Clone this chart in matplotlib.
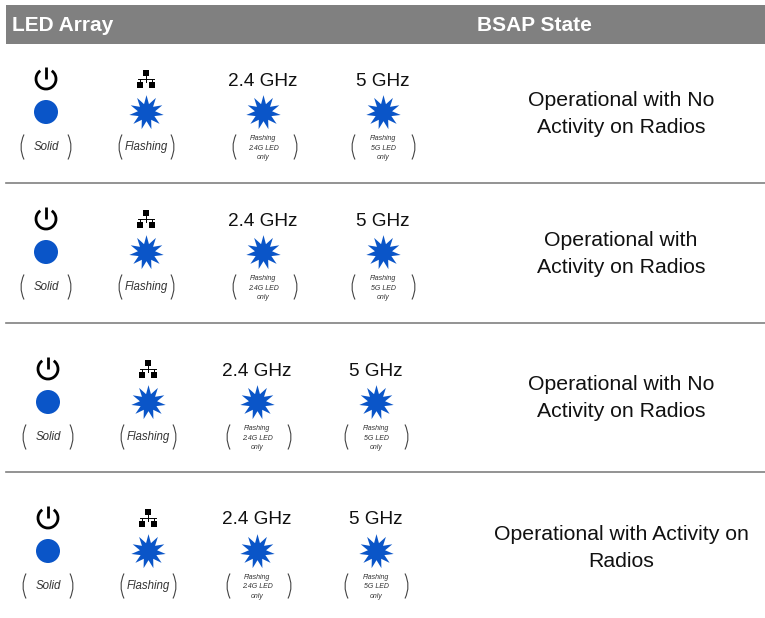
#!/usr/bin/env python3
# LED array / BSAP state table drawn in pixel coordinates
import matplotlib
matplotlib.use('Agg')
import matplotlib.pyplot as plt
from matplotlib.patches import Arc, Circle, PathPatch, Rectangle
from matplotlib.path import Path

plt.rcParams['font.family'] = ['Liberation Sans', 'DejaVu Sans']

# 数据
headers = ['LED Array', 'BSAP State']
band_labels = ['2.4 GHz', '5 GHz']
led_states = ['Solid', 'Flashing', 'Flashing\n2.4G LED\nonly', 'Flashing\n5G LED\nonly']
bsap_states = [
    'Operational with No\nActivity on Radios',
    'Operational with\nActivity on Radios',
    'Operational with No\nActivity on Radios',
    'Operational with Activity on\nRadios',
]

BLUE = '#0A55C8'
INK = '#333333'

# 每行的位置
row_y = [78, 218, 368, 517]
row_cols = [
    [46, 146, 263, 383],
    [46, 146, 263, 383],
    [48, 148, 257, 376],
    [48, 148, 257, 376],
]
state_y = [114, 254, 398, 548]
state_x = 621
rule_y = [183, 323, 472]

fig = plt.figure(figsize=(7.65, 6.18), dpi=100)
ax = fig.add_axes([0, 0, 1, 1])
ax.set_xlim(0, 765)
ax.set_ylim(618, 0)
ax.axis('off')

# 表头
ax.add_patch(Rectangle((6, 5), 759, 39, facecolor='#808080', edgecolor='none'))
ax.text(12, 25.5, headers[0], color='white', fontsize=15, fontweight='bold', ha='left', va='center')
ax.text(477, 25.5, headers[1], color='white', fontsize=15, fontweight='bold', ha='left', va='center')

star = Path.unit_regular_star(11, innerCircle=0.5)


def draw_power(x, y):
    ax.add_patch(Arc((x, y + 1), 20, 20, theta1=-55, theta2=235, color='black', lw=2.0))
    ax.plot([x, x], [y - 11, y + 1], color='black', lw=2.0, solid_capstyle='butt')


def draw_network(x, y):
    ax.add_patch(Rectangle((x - 3, y - 9), 6, 6, color='black', lw=0))
    ax.add_patch(Rectangle((x - 9, y + 3), 6, 6, color='black', lw=0))
    ax.add_patch(Rectangle((x + 3, y + 3), 6, 6, color='black', lw=0))
    ax.plot([x, x], [y - 3, y + 3], color='black', lw=0.7)
    ax.plot([x - 8, x + 8], [y, y], color='black', lw=0.7)
    ax.plot([x - 6, x - 6], [y, y + 3], color='black', lw=0.7)
    ax.plot([x + 6, x + 6], [y, y + 3], color='black', lw=0.7)


def draw_parens(x, y, half):
    # half 为括号到中心的距离
    for side in (-1, 1):
        verts = [(x + side * (half - 3), y - 12.5), (x + side * (half + 3), y), (x + side * (half - 3), y + 12.5)]
        path = Path(verts, [Path.MOVETO, Path.CURVE3, Path.CURVE3])
        ax.add_patch(PathPatch(path, facecolor='none', edgecolor='#444444', lw=0.8))


for i, y in enumerate(row_y):
    cols = row_cols[i]
    icon_y = y + 34
    note_y = y + 69

    draw_power(cols[0], y)
    draw_network(cols[1], y + 1)
    ax.text(cols[2], y + 3, band_labels[0], fontsize=13.7, color='#111111', ha='center', va='center')
    ax.text(cols[3], y + 3, band_labels[1], fontsize=13.7, color='#111111', ha='center', va='center')

    ax.add_patch(Circle((cols[0], icon_y), 12, facecolor=BLUE, edgecolor='none'))
    for cx in cols[1:]:
        ax.plot([cx], [icon_y], marker=star, markersize=25, color=BLUE, markeredgewidth=0)

    ax.text(cols[0], note_y, led_states[0], fontsize=8.3, style='italic', color=INK, ha='center', va='center')
    ax.text(cols[1], note_y, led_states[1], fontsize=8.3, style='italic', color=INK, ha='center', va='center')
    ax.text(cols[2], note_y + 1, led_states[2], fontsize=5, style='italic', color=INK, ha='center', va='center', linespacing=1.5)
    ax.text(cols[3], note_y + 1, led_states[3], fontsize=5, style='italic', color=INK, ha='center', va='center', linespacing=1.5)

    draw_parens(cols[0], note_y, 25)
    draw_parens(cols[1] + 0.5, note_y, 27.5)
    draw_parens(cols[2] + 2, note_y, 32)
    draw_parens(cols[3] + 0.5, note_y, 31.5)

    ax.text(state_x, state_y[i], bsap_states[i], fontsize=15.35, color='#111111', ha='center', va='center', linespacing=1.5)

for y in rule_y:
    ax.plot([6, 765], [y, y], color='#808080', lw=1.2)

fig.savefig('out.png', dpi=100, facecolor='white')
